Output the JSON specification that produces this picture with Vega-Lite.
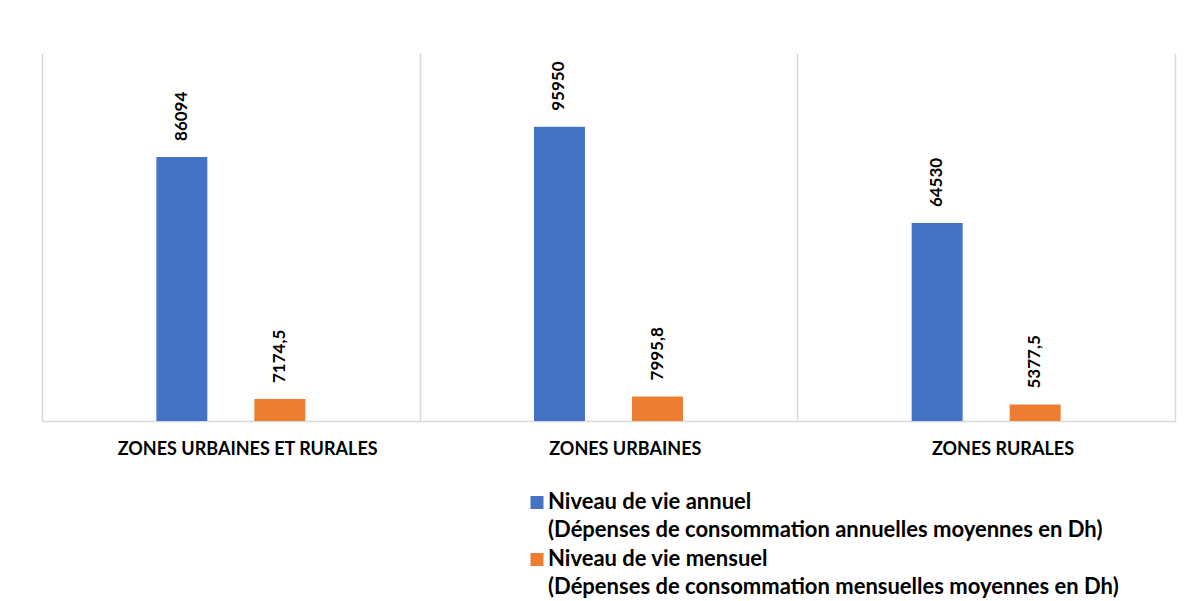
{
  "$schema": "https://vega.github.io/schema/vega-lite/v6.json",
  "width": 1133,
  "height": 368,
  "autosize": {"type": "none"},
  "padding": {"left": 42, "top": 53, "right": 21, "bottom": 180},
  "background": "#ffffff",
  "config": {
    "view": {"stroke": null},
    "font": "Lato",
    "style": {"guide-label": {"lineHeight": 27.5}},
    "locale": {
      "number": {"decimal": ",", "thousands": " ", "grouping": [3], "currency": ["", " Dh"]}
    }
  },
  "data": {
    "values": [
      {"zone": "ZONES URBAINES ET RURALES", "serie": "Niveau de vie annuel\n(Dépenses de consommation annuelles moyennes en Dh)", "valeur": 86094},
      {"zone": "ZONES URBAINES ET RURALES", "serie": "Niveau de vie mensuel\n(Dépenses de consommation mensuelles moyennes en Dh)", "valeur": 7174.5},
      {"zone": "ZONES URBAINES", "serie": "Niveau de vie annuel\n(Dépenses de consommation annuelles moyennes en Dh)", "valeur": 95950},
      {"zone": "ZONES URBAINES", "serie": "Niveau de vie mensuel\n(Dépenses de consommation mensuelles moyennes en Dh)", "valeur": 7995.8},
      {"zone": "ZONES RURALES", "serie": "Niveau de vie annuel\n(Dépenses de consommation annuelles moyennes en Dh)", "valeur": 64530},
      {"zone": "ZONES RURALES", "serie": "Niveau de vie mensuel\n(Dépenses de consommation mensuelles moyennes en Dh)", "valeur": 5377.5}
    ]
  },
  "encoding": {
    "x": {
      "field": "zone",
      "type": "nominal",
      "sort": ["ZONES URBAINES ET RURALES", "ZONES URBAINES", "ZONES RURALES"],
      "scale": {"paddingInner": 0.0865, "paddingOuter": 0.0433},
      "axis": {
        "title": null,
        "labelAngle": 0,
        "labelFont": "Lato",
        "labelFontSize": 18,
        "labelFontWeight": "bold",
        "labelColor": "#000000",
        "labelPadding": 19,
        "labelLimit": 500,
        "ticks": false,
        "tickSize": 0,
        "bandPosition": 1,
        "tickExtra": false,
        "tickOffset": 16.3,
        "grid": true,
        "gridColor": "#d9d9d9",
        "gridWidth": 1.5,
        "domainColor": "#d9d9d9",
        "domainWidth": 1.5
      }
    },
    "xOffset": {
      "field": "serie",
      "type": "nominal",
      "scale": {"paddingInner": 0.48, "paddingOuter": 1}
    },
    "y": {
      "field": "valeur",
      "type": "quantitative",
      "scale": {"domain": [0, 120000], "nice": false},
      "axis": {
        "orient": "left",
        "title": null,
        "labels": false,
        "ticks": false,
        "grid": false,
        "domain": true,
        "domainColor": "#d9d9d9",
        "domainWidth": 1.5
      }
    }
  },
  "layer": [
    {
      "mark": {"type": "bar"},
      "encoding": {
        "color": {
          "field": "serie",
          "type": "nominal",
          "scale": {"range": ["#4472C4", "#ED7D31"]},
          "legend": {
            "title": null,
            "orient": "none",
            "direction": "vertical",
            "legendX": 484,
            "legendY": 445,
            "padding": 0,
            "labelExpr": "split(datum.label, '\\n')",
            "labelFont": "Lato",
            "labelFontSize": 22,
            "labelFontWeight": "bold",
            "labelColor": "#000000",
            "labelBaseline": "alphabetic",
            "labelLimit": 0,
            "labelOffset": 0,
            "symbolType": "M-1,-2H1V0H-1Z",
            "symbolSize": 169,
            "symbolStrokeWidth": 0,
            "symbolOpacity": 1,
            "rowPadding": 7
          }
        }
      }
    },
    {
      "mark": {
        "type": "text",
        "angle": 270,
        "align": "left",
        "baseline": "middle",
        "dx": 16,
        "font": "Lato",
        "fontSize": 17,
        "fontWeight": "bold",
        "color": "#000000"
      },
      "encoding": {
        "text": {"field": "valeur", "type": "quantitative", "format": ".6~r"}
      }
    }
  ]
}
